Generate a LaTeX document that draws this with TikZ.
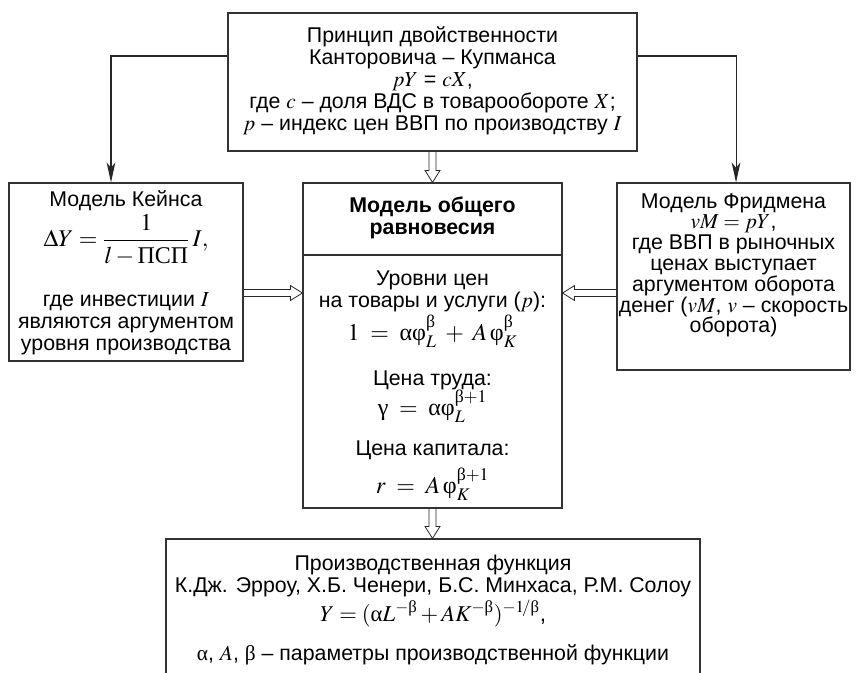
\documentclass[tikz,border=0pt]{standalone}
\usepackage{amsmath}
\usepackage{mathptmx}
\usepackage[no-math]{fontspec}
\setmainfont{Liberation Sans}
\newfontfamily\srf{Liberation Serif}
\usetikzlibrary{arrows.meta,calc}
% upright greek as in the book
\newcommand\alf{\text{\srf α}}
\newcommand\bet{\text{\srf β}}
\newcommand\fii{\text{\srf φ}}
\newcommand\gam{\text{\srf γ}}
\newcommand\basefont{\fontsize{16}{16}\selectfont\lineskiplimit=-50pt}
\newcommand\bigf{\fontsize{18}{16}\selectfont}
% hollow (double) arrow from #1 to #2
\newcommand\hollow[2]{%
	\coordinate (hb) at ($(#2)!9pt!(#1)$);
	\draw[hol] ($(#1)!2.6pt!90:(#2)$) -- ($(hb)!2.6pt!90:(#2)$) -- ($(hb)!5.6pt!90:(#2)$) -- (#2)
		-- ($(hb)!5.6pt!-90:(#2)$) -- ($(hb)!2.6pt!-90:(#2)$) -- ($(#1)!2.6pt!-90:(#2)$);}
\begin{document}
\begin{tikzpicture}[x=0.75pt, y=-0.75pt, line join=miter, font=\basefont,
	box/.style={draw=black!80, line width=0.8pt, align=center, anchor=base, inner xsep=0pt, inner ysep=0pt},
	arr/.style={draw=black!85, line width=0.8pt, -{Stealth[length=15pt, width=6.5pt, inset=4pt]}},
	hol/.style={draw=black!85, line width=0.6pt}]
	\path[use as bounding box, clip] (0,0) rectangle (856,673);
	% boxes (placed at the baseline of their last line)
	\node[box, minimum width=306.75pt, text height=88.5pt, text depth=15pt] (dual) at (432.5,131) {Принцип двойственности\\[0.5pt]
		Канторовича – Купманса\\[0.5pt]
		$pY$ = $cX$,\\[0.5pt]
		где $c$ – доля ВДС в товарообороте $X$;\\[0.5pt]
		$p$ – индекс цен ВВП по производству $I$};
	\node[box, minimum width=175.5pt, text height=125.25pt, text depth=8.25pt] (keyn) at (126,350) {Модель Кейнса\\[14pt]
		{\bigf $\displaystyle\Delta Y=\frac{1}{l-\text{\srf ПСП}}\,I,$}\\[29pt]
		где инвестиции $I$\\[0.2pt]
		являются аргументом\\[0.2pt]
		уровня производства};
	\node[box, font=\basefont\bfseries, minimum width=194.25pt, text height=39pt, text depth=15pt] (head) at (432.5,235) {Модель общего\\[0.5pt] равновесия};
	\node[box, minimum width=194.25pt, text height=178.5pt, text depth=11.25pt] (body) at (432.5,493) {Уровни цен\\[0.5pt]
		на товары и услуги ($p$):\\[8.75pt]
		{\bigf $1\;=\;\alf\fii^{\bet}_{L}\;+\;A\,\fii^{\bet}_{K}$}\\[17.75pt]
		Цена труда:\\[6.5pt]
		{\bigf $\gam\;=\;\alf\fii^{\bet+1}_{L}$}\\[14pt]
		Цена капитала:\\[12.5pt]
		{\bigf $r\;=\;A\,\fii^{\bet+1}_{K}$}};
	\node[box, minimum width=174.75pt, text height=112.5pt, text depth=27.75pt] (fried) at (733.5,333) {Модель Фридмена\\[-0.4pt]
		$vM=pY$,\\[-0.4pt]
		где ВВП в рыночных\\[-0.4pt]
		ценах выступает\\[-0.4pt]
		аргументом оборота\\[-0.4pt]
		денег ($vM$, $v$ – скорость\\[-0.4pt]
		оборота)};
	\node[box, minimum width=400.5pt, text height=90.75pt, text depth=15pt] (prod) at (433,660) {Производственная функция\\[0.5pt]
		К.Дж. Эрроу, Х.Б. Ченери, Б.С. Минхаса, Р.М. Солоу\\[5.75pt]
		{\fontsize{17}{16}\selectfont $Y=(\alf L^{-\bet}+AK^{-\bet})^{-1\!/\bet}$,}\\[13.25pt]
		$\alf$, $A$, $\bet$ – параметры производственной функции};
	% connectors
	\draw[arr] ([yshift=19.5pt]dual.west) -| ([xshift=-11.25pt]keyn.north);
	\draw[arr] ([yshift=19.5pt]dual.east) -| ([xshift=1.9pt]fried.north);
	\coordinate (kin) at ([yshift=-15.75pt]keyn.east);
	\coordinate (fin) at ([yshift=-12.4pt]fried.west);
	\hollow{dual.south}{head.north}
	\hollow{kin}{kin -| body.west}
	\hollow{fin}{fin -| body.east}
	\hollow{body.south}{body.south |- prod.north}
\end{tikzpicture}
\end{document}
